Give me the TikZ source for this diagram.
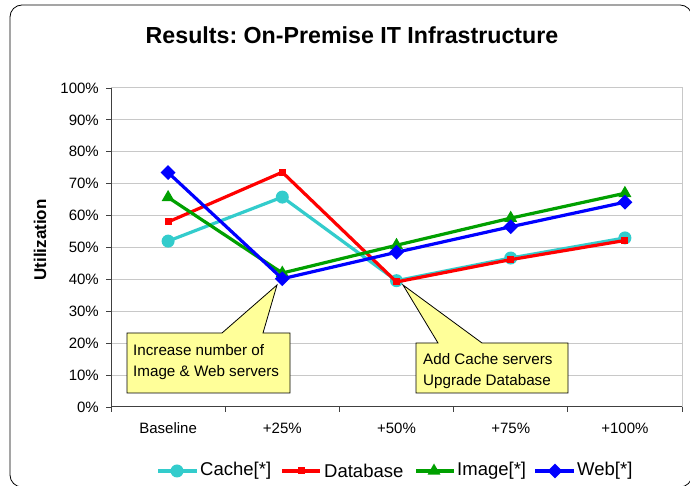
\documentclass[tikz,border=0pt]{standalone}
\usepackage{fontspec}
\setmainfont{Liberation Sans}
\usetikzlibrary{shapes.geometric}
\frenchspacing
\definecolor{cachecol}{HTML}{33CCCC}
\definecolor{dbcol}{HTML}{FF0000}
\definecolor{imgcol}{HTML}{00A000}
\definecolor{webcol}{HTML}{0000FF}
\definecolor{notecol}{HTML}{FFFF99}
\definecolor{gridcol}{HTML}{C8C8C8}
\tikzset{
  series/.style={line width=3.2pt, line join=round},
  cacheline/.style={series, draw=cachecol},
  dbline/.style={series, draw=dbcol},
  imgline/.style={series, draw=imgcol},
  webline/.style={series, draw=webcol},
  cachemark/.style={circle, fill=cachecol, inner sep=0pt, minimum size=13pt},
  dbmark/.style={rectangle, fill=dbcol, inner sep=0pt, minimum size=7pt},
  imgmark/.style={regular polygon, regular polygon sides=3, fill=imgcol, inner sep=0pt, minimum size=15pt},
  webmark/.style={diamond, fill=webcol, inner sep=0pt, minimum size=15pt},
  ticklabel/.style={font=\fontsize{15}{16}\selectfont, inner sep=0pt},
  legendlabel/.style={font=\fontsize{18.5}{20}\selectfont, anchor=west, inner sep=0pt},
  callout/.style={draw=black, fill=notecol, line width=0.8pt, line join=miter},
  notetext/.style={font=\fontsize{15.2}{21}\selectfont, anchor=west, align=left, inner sep=0pt}
}
\begin{document}
\begin{tikzpicture}[x=1pt,y=1pt]
  \useasboundingbox (0,0) rectangle (690,486);
  \clip (0,0) rectangle (690,486);
  \fill[white] (0,0) rectangle (690,486);
  % chart frame
  \draw[rounded corners=12pt, line width=0.8pt] (10,481) rectangle (692,-1);
  \node[font=\bfseries\fontsize{23.2}{27}\selectfont] (title) at (352,451)
    {Results: On-Premise IT Infrastructure};
  \node[font=\bfseries\fontsize{17}{20}\selectfont, rotate=90] (ylabel) at (40,246)
    {Utilization};
  \begin{scope}[shift={(111,79)}, x=114.2pt, y=3.19pt]
    % grid and axes
    \foreach \v in {10,20,...,90}
      \draw[gridcol, line width=0.8pt] (0,\v) -- (5,\v);
    \draw[gridcol, line width=1pt] (0,100) -- (5,100) -- (5,0);
    \draw[black!75, line width=1pt] (0,100) -- (0,0) -- (5,0);
    \foreach \v in {0,10,...,100} {
      \draw[black!75, line width=0.8pt] (0,\v) -- ++(-5pt,0);
      \node[ticklabel, anchor=east] (ytick\v) at ([xshift=-12pt]0,\v) {\v\%};
    }
    \foreach \k in {0,...,5}
      \draw[black!75, line width=0.8pt] (\k,0) -- ++(0,-5pt);
    \node[ticklabel] (xt0) at ([yshift=-21pt]0.5,0) {Baseline};
    \node[ticklabel] (xt1) at ([yshift=-21pt]1.5,0) {+25\%};
    \node[ticklabel] (xt2) at ([yshift=-21pt]2.5,0) {+50\%};
    \node[ticklabel] (xt3) at ([yshift=-21pt]3.5,0) {+75\%};
    \node[ticklabel] (xt4) at ([yshift=-21pt]4.5,0) {+100\%};
    % data points
    \path
      (0.5,52.0) coordinate (c0)
      (1.5,65.8) coordinate (c1)
      (2.5,39.6) coordinate (c2)
      (3.5,46.7) coordinate (c3)
      (4.5,53.0) coordinate (c4);
    \path
      (0.5,58.0) coordinate (d0)
      (1.5,73.6) coordinate (d1)
      (2.5,39.2) coordinate (d2)
      (3.5,46.2) coordinate (d3)
      (4.5,52.2) coordinate (d4);
    \path
      (0.5,65.7) coordinate (i0)
      (1.5,42.0) coordinate (i1)
      (2.5,50.7) coordinate (i2)
      (3.5,59.2) coordinate (i3)
      (4.5,67.0) coordinate (i4);
    \path
      (0.5,73.5) coordinate (w0)
      (1.5,40.2) coordinate (w1)
      (2.5,48.5) coordinate (w2)
      (3.5,56.5) coordinate (w3)
      (4.5,64.2) coordinate (w4);
    % series
    \draw[cacheline] (c0) -- (c1) -- (c2) -- (c3) -- (c4);
    \foreach \k in {0,...,4} \node[cachemark] (cm\k) at (c\k) {};
    \draw[dbline] (d0) -- (d1) -- (d2) -- (d3) -- (d4);
    \foreach \k in {0,...,4} \node[dbmark] (dm\k) at (d\k) {};
    \draw[imgline] (i0) -- (i1) -- (i2) -- (i3) -- (i4);
    \foreach \k in {0,...,4} \node[imgmark] (im\k) at (i\k) {};
    \draw[webline] (w0) -- (w1) -- (w2) -- (w3) -- (w4);
    \foreach \k in {0,...,4} \node[webmark] (wm\k) at (w\k) {};
  \end{scope}
  % callouts
  \coordinate (tipA) at (277,201);
  \draw[callout] (127,93) -- (127,153) -- (222,153) -- (tipA) -- (263,153)
    -- (290,153) -- (290,93) -- cycle;
  \node[notetext] (noteA) at (133,123.5) {Increase number of\\Image \& Web servers};
  \coordinate (tipB) at (403,201);
  \draw[callout] (416,93) -- (416,143) -- (438,143) -- (tipB) -- (482,143)
    -- (568,143) -- (568,93) -- cycle;
  \node[notetext] (noteB) at (423,115) {Add Cache servers\\Upgrade Database};
  % legend
  \coordinate (lc1) at (158,15); \coordinate (lc2) at (197,15);
  \draw[cacheline] (lc1) -- (lc2);
  \node[cachemark] (legc) at (177,15) {};
  \node[legendlabel] (legct) at (200,15) {Cache[*]};
  \coordinate (ld1) at (282,15); \coordinate (ld2) at (320,15);
  \draw[dbline] (ld1) -- (ld2);
  \node[dbmark] (legd) at (301,15) {};
  \node[legendlabel] (legdt) at (324,15) {Database};
  \coordinate (li1) at (416,15); \coordinate (li2) at (454,15);
  \draw[imgline] (li1) -- (li2);
  \node[imgmark] (legi) at (434,15) {};
  \node[legendlabel] (legit) at (457,15) {Image[*]};
  \coordinate (lw1) at (535,15); \coordinate (lw2) at (574,15);
  \draw[webline] (lw1) -- (lw2);
  \node[webmark] (legw) at (555,15) {};
  \node[legendlabel] (legwt) at (577,15) {Web[*]};
\end{tikzpicture}
\end{document}
